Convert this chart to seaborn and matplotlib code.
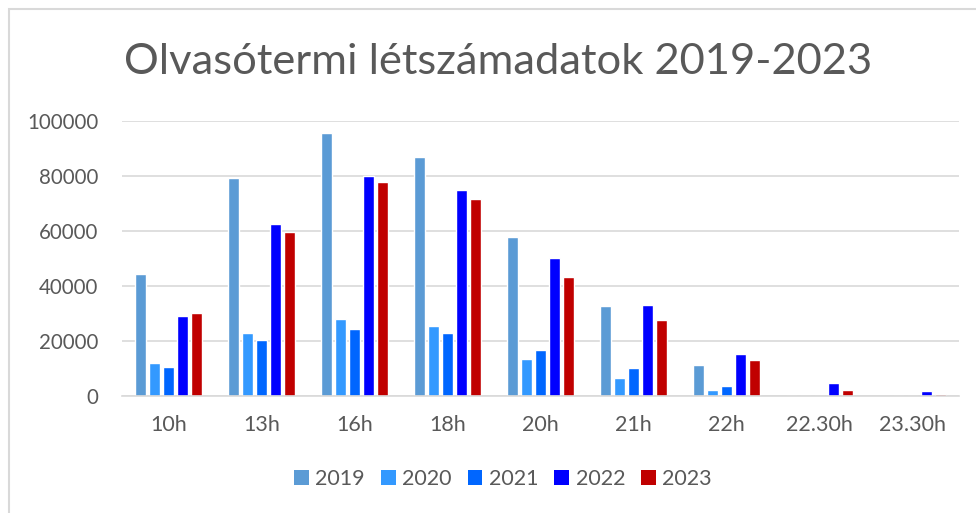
"""Olvasótermi létszámadatok 2019-2023"""
import pandas as pd
import matplotlib

matplotlib.use("Agg")
import matplotlib.pyplot as plt
from matplotlib.patches import Rectangle, Patch
from matplotlib.ticker import FuncFormatter
import seaborn as sns

hours = ["10h", "13h", "16h", "18h", "20h", "21h", "22h", "22.30h", "23.30h"]
years = ["2019", "2020", "2021", "2022", "2023"]
v2019 = [44300, 79200, 95400, 86900, 57600, 32700, 11400, 0, 0]
v2020 = [12000, 22800, 27800, 25300, 13500, 6600, 2200, 0, 0]
v2021 = [10600, 20200, 24300, 23000, 16600, 10200, 3600, 0, 0]
v2022 = [29200, 62600, 79800, 74700, 50300, 33200, 15200, 4700, 1800]
v2023 = [30100, 59400, 77600, 71700, 43100, 27700, 13200, 2200, 700]
colors = ["#5B9BD5", "#3399FF", "#0066FF", "#0000FF", "#C00000"]

TEXT = "#595959"
GRID = "#D9D9D9"


def build_frame():
    """Hosszú formátumú táblázat."""
    rows = []
    for year, vals in zip(years, [v2019, v2020, v2021, v2022, v2023]):
        for h, v in zip(hours, vals):
            rows.append({"ora": h, "ev": year, "letszam": v})
    return pd.DataFrame(rows)


def main():
    sns.set_style("white")
    plt.rcParams["font.family"] = ["Lato", "DejaVu Sans"]
    df = build_frame()

    fig = plt.figure(figsize=(9.76, 5.13), dpi=100)
    # keret a diagram körül
    fig.patches.append(
        Rectangle((9 / 976, -0.1), 1.2, 1.1 - 9 / 513, transform=fig.transFigure,
                  fill=False, edgecolor=GRID, linewidth=1.5)
    )
    ax = fig.add_axes([122 / 976, 1 - 396 / 513, (959 - 122) / 976, (396 - 120.7) / 513])
    sns.barplot(data=df, x="ora", y="letszam", hue="ev", palette=colors,
                width=0.76, gap=0.2, ax=ax, legend=False, saturation=1)

    ax.set_ylim(0, 100000)
    ax.set_xlim(-0.5, len(hours) - 0.5)
    ax.set_yticks(range(0, 100001, 20000))
    ax.yaxis.set_major_formatter(FuncFormatter(lambda v, p: f"{int(v)}"))
    ax.grid(axis="y", color=GRID, linewidth=1.2)
    ax.set_axisbelow(True)
    for s in ["top", "right", "left"]:
        ax.spines[s].set_visible(False)
    ax.spines["bottom"].set_color(GRID)
    ax.spines["bottom"].set_linewidth(1.2)
    ax.tick_params(axis="both", length=0, colors=TEXT)
    ax.tick_params(axis="x", pad=14, labelsize=15.5)
    ax.tick_params(axis="y", pad=17, labelsize=14.8)
    ax.set_xlabel("")
    ax.set_ylabel("")

    fig.text(498 / 976, 1 - 62 / 513, "Olvasótermi létszámadatok 2019-2023",
             ha="center", va="center", fontsize=31.3, color=TEXT)

    handles = [Patch(facecolor=c, edgecolor="none") for c in colors]
    fig.legend(handles, years, loc="center", bbox_to_anchor=(503 / 976, 1 - 479 / 513),
               ncol=5, frameon=False, fontsize=15.5, labelcolor=TEXT,
               handlelength=0.68, handleheight=0.68, handletextpad=0.3,
               columnspacing=0.75)

    fig.savefig("out.png", dpi=100)
    plt.close(fig)


if __name__ == "__main__":
    main()
